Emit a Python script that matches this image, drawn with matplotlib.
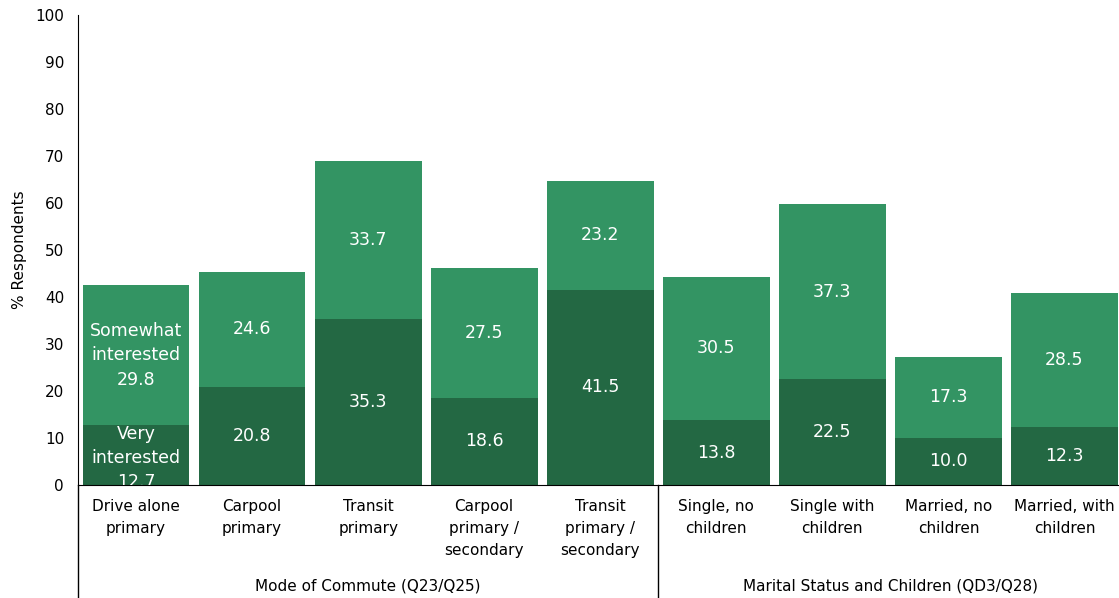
import matplotlib
matplotlib.use("Agg")
import matplotlib.pyplot as plt
import numpy as np

# data
categories = ["Drive alone\nprimary", "Carpool\nprimary", "Transit\nprimary",
              "Carpool\nprimary /\nsecondary", "Transit\nprimary /\nsecondary",
              "Single, no\nchildren", "Single with\nchildren",
              "Married, no\nchildren", "Married, with\nchildren"]
very = [12.7, 20.8, 35.3, 18.6, 41.5, 13.8, 22.5, 10.0, 12.3]
somewhat = [29.8, 24.6, 33.7, 27.5, 23.2, 30.5, 37.3, 17.3, 28.5]
groups = ["Mode of Commute (Q23/Q25)", "Marital Status and Children (QD3/Q28)"]
group_sizes = [5, 4]

dark = "#236843"
light = "#339463"

fig = plt.figure(figsize=(11.19, 5.98), dpi=100)
ax = fig.add_axes([78/1119, 113/598, 1 - 78/1119, 470/598])

x = np.arange(len(categories))
ax.bar(x, very, width=0.92, color=dark)
ax.bar(x, somewhat, width=0.92, bottom=very, color=light)

for i in range(len(x)):
    lo = "{:.1f}".format(very[i])
    hi = "{:.1f}".format(somewhat[i])
    if i == 0:
        lo = "Very\ninterested\n" + lo
        hi = "Somewhat\ninterested\n" + hi
    # first bar's label runs past the axis, so keep it clipped like the original
    ax.text(x[i], very[i] / 2 - (0.6 if i == 0 else 0), lo, ha="center", va="center",
            color="white", fontsize=12.5, linespacing=1.45, clip_on=True)
    ax.text(x[i], very[i] + somewhat[i] / 2, hi, ha="center", va="center",
            color="white", fontsize=12.5, linespacing=1.45)

ax.set_xlim(-0.5, 8.47)
ax.set_ylim(0, 100)
ax.set_yticks(np.arange(0, 101, 10))
ax.set_xticks(x)
ax.set_xticklabels(categories, fontsize=11, linespacing=1.6)
ax.tick_params(axis="both", length=0, labelsize=11)
ax.tick_params(axis="y", pad=10)
ax.tick_params(axis="x", pad=10)
ax.set_ylabel("% Respondents", fontsize=11, labelpad=6)
for s in ["top", "right"]:
    ax.spines[s].set_visible(False)

# group separators and labels under the axis
tr = ax.get_xaxis_transform()
ax.plot([-0.5, -0.5], [0, -0.25], color="black", lw=1, transform=tr, clip_on=False)
start = -0.5
for name, n in zip(groups, group_sizes):
    end = start + n
    if end < 8.5:
        ax.plot([end, end], [0, -0.25], color="black", lw=1, transform=tr, clip_on=False)
    ax.text((start + end) / 2, -0.215, name, ha="center", va="center",
            fontsize=11, transform=tr)
    start = end

fig.savefig("out.png", dpi=100)
